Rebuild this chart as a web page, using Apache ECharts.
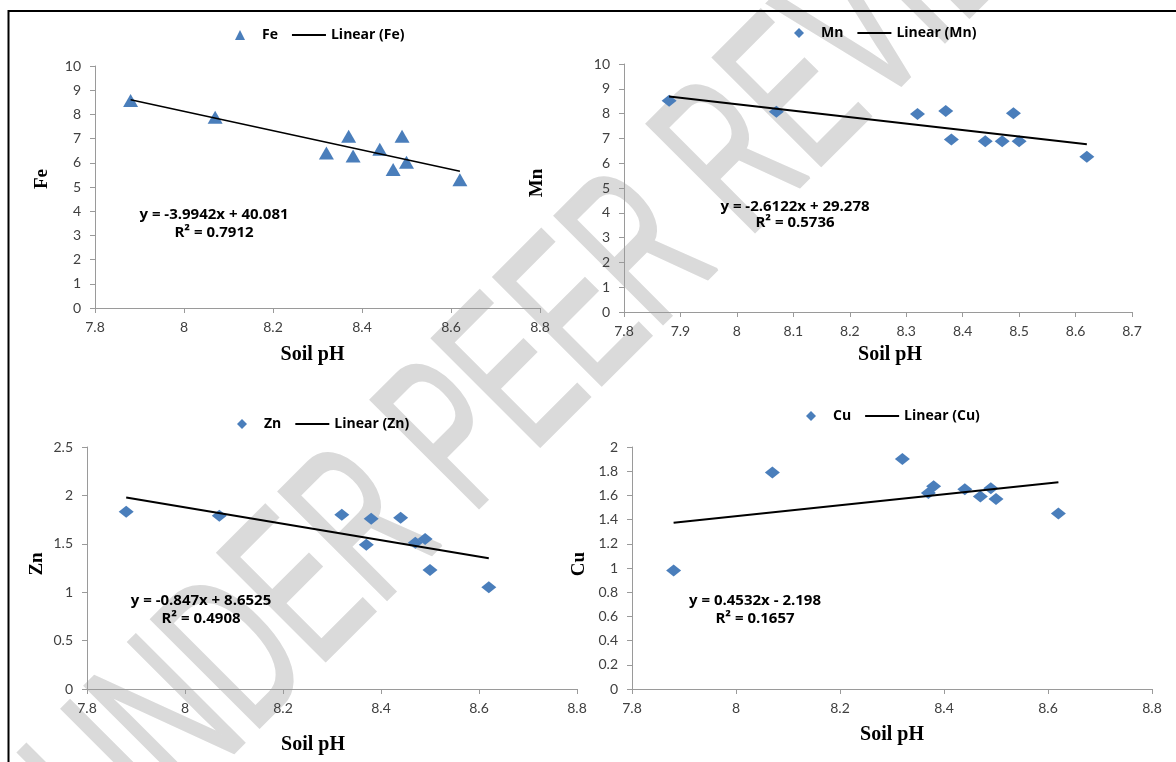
<!DOCTYPE html>
<html>
<head>
<meta charset="utf-8">
<script src="https://cdn.jsdelivr.net/npm/echarts@6.0.0/dist/echarts.min.js"></script>
<style>
  html, body { margin: 0; padding: 0; background: #fff; }
  #chart { width: 1176px; height: 762px; }
</style>
</head>
<body>
<div id="chart"></div>
<script>
// 数据：土壤 pH 与微量元素
const phValues = [7.88, 8.07, 8.32, 8.37, 8.38, 8.44, 8.47, 8.49, 8.50, 8.62]
const feValues = [8.57, 7.88, 6.40, 7.10, 6.28, 6.56, 5.72, 7.10, 6.02, 5.30]
const mnValues = [8.52, 8.07, 7.98, 8.10, 6.96, 6.89, 6.89, 8.01, 6.89, 6.26]
const znValues = [1.83, 1.79, 1.80, 1.49, 1.76, 1.77, 1.51, 1.55, 1.23, 1.05]
const cuValues = [0.98, 1.79, 1.90, 1.62, 1.675, 1.65, 1.59, 1.66, 1.57, 1.45]

const elementNames = ['Fe', 'Mn', 'Zn', 'Cu']
const elementValues = [feValues, mnValues, znValues, cuValues]

// 趋势线 y = slope * x + intercept
const trendSlopes = [-3.9942, -2.6122, -0.847, 0.4532]
const trendIntercepts = [40.081, 29.278, 8.6525, -2.198]
const equationTexts = ['y = -3.9942x + 40.081', 'y = -2.6122x + 29.278', 'y = -0.847x + 8.6525', 'y = 0.4532x - 2.198']
const rSquaredTexts = ['R² = 0.7912', 'R² = 0.5736', 'R² = 0.4908', 'R² = 0.1657']

// 坐标轴范围 [min, max, interval]
const xRanges = [[7.8, 8.8, 0.2], [7.8, 8.7, 0.1], [7.8, 8.8, 0.2], [7.8, 8.8, 0.2]]
const yRanges = [[0, 10, 1], [0, 10, 1], [0, 2.5, 0.5], [0, 2, 0.2]]
const xAxisTitle = 'Soil pH'
const watermarkText = 'UNDER PEER REVIEW'

// 图例图标
const triangleIcon = 'path://M5,0L10,10L0,10Z'
const diamondIcon = 'path://M5,0L10,5L5,10L0,5Z'
const lineIcon = 'path://M0,0H34V2H0Z'

// 布局
const layouts = [
  { grid: [95, 66, 445, 242], legend: [235, 28], eq: [214, 215, 233], yGap: 43, yPad: [0, 0, 0, 16], xGap: 37, xPad: [0, 10, 0, 0], symbol: 'triangle', icon: triangleIcon, size: [15, 13], lw: 1.5 },
  { grid: [624, 64, 508, 248], legend: [794, 26], eq: [795, 207, 223], yGap: 77, yPad: [0, 0, 0, 10], xGap: 33, xPad: [0, 0, 0, 24], symbol: 'diamond', icon: diamondIcon, size: [15, 12], lw: 2 },
  { grid: [87, 447, 490, 242], legend: [237, 417], eq: [201, 601, 619], yGap: 40, yPad: [0, 0, 0, 8], xGap: 46, xPad: [0, 38, 0, 0], symbol: 'diamond', icon: diamondIcon, size: [15, 12], lw: 2 },
  { grid: [632, 447, 520, 242], legend: [806, 409], eq: [755, 601, 619], yGap: 43, yPad: [0, 0, 0, 8], xGap: 36, xPad: [0, 0, 0, 0], symbol: 'diamond', icon: diamondIcon, size: [15, 12], lw: 2 }
]

const markerColor = '#4A7EBB'
const axisColor = '#9a9a9a'
const labelFont = 'Lato'
const noteFont = 'Open Sans'

const xMin = Math.min(...phValues)
const xMax = Math.max(...phValues)

const grids = []
const xAxes = []
const yAxes = []
const legends = []
const series = []
const graphics = []

layouts.forEach((lay, i) => {
  const name = elementNames[i]
  grids.push({ left: lay.grid[0], top: lay.grid[1], width: lay.grid[2], height: lay.grid[3] })

  xAxes.push({
    gridIndex: i,
    type: 'value',
    min: xRanges[i][0],
    max: xRanges[i][1],
    interval: xRanges[i][2],
    name: xAxisTitle,
    nameLocation: 'middle',
    nameGap: lay.xGap,
    nameTextStyle: { fontFamily: 'Liberation Serif', fontWeight: 'bold', fontSize: 20, color: '#000', padding: lay.xPad },
    axisLine: { show: true, lineStyle: { color: axisColor, width: 1 } },
    axisTick: { show: true, length: 5, lineStyle: { color: axisColor } },
    axisLabel: { fontFamily: labelFont, fontSize: 14, color: '#404040', margin: 12, showMinLabel: true, showMaxLabel: true },
    splitLine: { show: false }
  })

  yAxes.push({
    gridIndex: i,
    type: 'value',
    min: yRanges[i][0],
    max: yRanges[i][1],
    interval: yRanges[i][2],
    name: name,
    nameLocation: 'middle',
    nameGap: lay.yGap,
    nameTextStyle: { fontFamily: 'Liberation Serif', fontWeight: 'bold', fontSize: 19, color: '#000', padding: lay.yPad },
    axisLine: { show: true, lineStyle: { color: axisColor, width: 1 } },
    axisTick: { show: true, length: 5, lineStyle: { color: axisColor } },
    axisLabel: { fontFamily: labelFont, fontSize: 14, color: '#404040', margin: 14, showMinLabel: true, showMaxLabel: true },
    splitLine: { show: false }
  })

  legends.push({
    left: lay.legend[0],
    top: lay.legend[1],
    padding: 0,
    itemWidth: 34,
    itemHeight: 10,
    itemGap: 14,
    symbolKeepAspect: true,
    textStyle: { fontFamily: noteFont, fontWeight: 'bold', fontSize: 14, color: '#000' },
    data: [
      { name: name, icon: lay.icon },
      { name: 'Linear (' + name + ')', icon: lineIcon, itemStyle: { color: '#000' } }
    ],
    selectedMode: false
  })

  series.push({
    name: name,
    type: 'scatter',
    xAxisIndex: i,
    yAxisIndex: i,
    symbol: lay.symbol,
    symbolSize: lay.size,
    itemStyle: { color: markerColor, opacity: 1 },
    data: phValues.map((x, k) => [x, elementValues[i][k]]),
    z: 2
  })

  series.push({
    name: 'Linear (' + name + ')',
    type: 'line',
    xAxisIndex: i,
    yAxisIndex: i,
    symbol: 'none',
    lineStyle: { color: '#000', width: lay.lw },
    itemStyle: { color: '#000' },
    data: [
      [xMin, trendSlopes[i] * xMin + trendIntercepts[i]],
      [xMax, trendSlopes[i] * xMax + trendIntercepts[i]]
    ],
    z: 3
  })

  // 方程与 R²
  const eqStyle = { fontFamily: noteFont, fontWeight: 'bold', fontSize: 15, fill: '#000', align: 'center', verticalAlign: 'middle', textAlign: 'center', textVerticalAlign: 'middle' }
  graphics.push({ type: 'text', x: lay.eq[0], y: lay.eq[1], z: 50, style: Object.assign({ text: equationTexts[i] }, eqStyle) })
  graphics.push({ type: 'text', x: lay.eq[0], y: lay.eq[2], z: 50, style: Object.assign({ text: rSquaredTexts[i] }, eqStyle) })
})

// 水印：外层 group 负责旋转，内层文字在自身坐标系里拉高
graphics.push({
  type: 'group',
  x: 571,
  y: 329,
  rotation: Math.PI / 4,
  z: -10,
  silent: true,
  children: [{
    type: 'text',
    x: 0,
    y: 0,
    scale: [1, 1.7],
    scaleX: 1,
    scaleY: 1.7,
    z: -10,
    style: {
      text: watermarkText,
      font: '130px "Liberation Sans"',
      fill: '#dadada',
      stroke: '#dadada',
      lineWidth: 2,
      lineJoin: 'round',
      align: 'center',
      verticalAlign: 'middle',
      textAlign: 'center',
      textVerticalAlign: 'middle'
    }
  }]
})

// 外框
graphics.push({
  type: 'rect',
  z: 100,
  silent: true,
  shape: { x: 8.5, y: 11, width: 1300, height: 900 },
  style: { fill: 'transparent', stroke: '#000', lineWidth: 2 }
})

const chart = echarts.init(document.getElementById('chart'))
chart.setOption({
  backgroundColor: '#fff',
  animation: false,
  grid: grids,
  xAxis: xAxes,
  yAxis: yAxes,
  legend: legends,
  series: series,
  graphic: { elements: graphics }
})
</script>
</body>
</html>
